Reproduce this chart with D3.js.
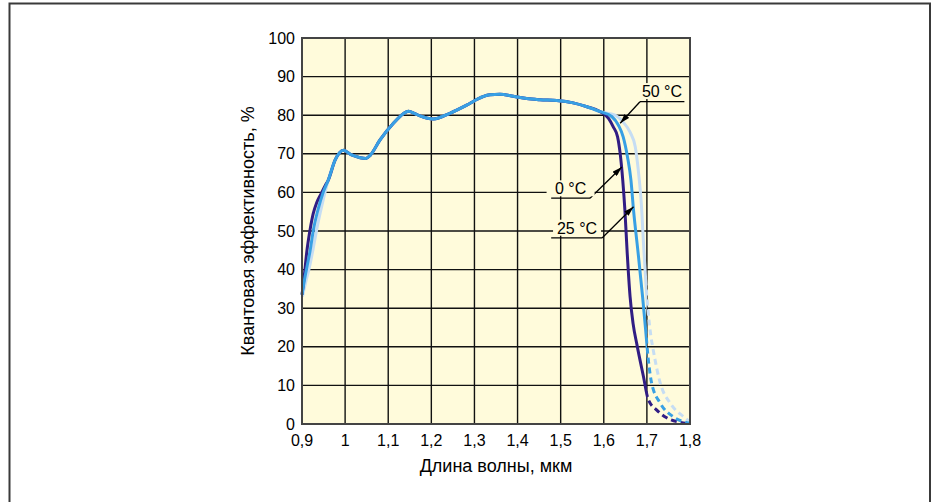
<!DOCTYPE html>
<html>
<head>
<meta charset="utf-8">
<script src="https://cdn.jsdelivr.net/npm/d3@7"></script>
<style>
    body { margin: 0; background: #fff; }
    svg { display: block; font-family: "Liberation Sans", Arial, sans-serif; }
</style>
</head>
<body>
<svg id="chart"></svg>
<script>
// wavelength (мкм) and quantum efficiency (%)
var sharedWave = [0.961, 0.977, 0.996, 1.015, 1.035, 1.048, 1.058, 1.081, 1.112, 1.135, 1.147, 1.162, 1.174, 1.205, 1.243, 1.282, 1.313, 1.336, 1.359, 1.39, 1.421, 1.452, 1.491, 1.529, 1.561, 1.592]
var sharedQE   = [63.2, 68.4, 70.9, 69.7, 69.0, 68.8, 69.6, 73.6, 77.9, 80.4, 81.0, 80.4, 79.8, 79.0, 80.5, 82.6, 84.5, 85.3, 85.4, 84.9, 84.3, 84.0, 83.8, 83.2, 82.2, 80.9]

var wave0Left  = [0.9, 0.905, 0.911, 0.919, 0.926, 0.934, 0.945, 0.954]
var qe0Left    = [33.5, 38, 44.5, 50.5, 54.5, 57.3, 59.8, 61.8]
var wave0Right = [1.611, 1.622, 1.632, 1.638, 1.644, 1.649, 1.654, 1.661, 1.668, 1.677, 1.692, 1.703, 1.723, 1.746, 1.777, 1.8]
var qe0Right   = [79.2, 77.0, 74.4, 70.1, 63.2, 55.4, 45.0, 33.0, 26.0, 20.5, 12.3, 6.4, 3.6, 1.6, 0.4, 0]

var wave25Left  = [0.9, 0.906, 0.912, 0.919, 0.926, 0.937, 0.949]
var qe25Left    = [33.5, 37.5, 41, 45, 50, 55.5, 60]
var wave25Right = [1.619, 1.634, 1.645, 1.655, 1.663, 1.669, 1.679, 1.69, 1.697, 1.703, 1.711, 1.731, 1.761, 1.8]
var qe25Right   = [79.6, 77.4, 74.4, 69.2, 63.2, 55.4, 45.0, 33.0, 24.5, 17.0, 10.6, 5.4, 1.9, 0.2]

var wave50Left  = [0.901, 0.908, 0.917, 0.926, 0.937, 0.949]
var qe50Left    = [33, 36.5, 40.5, 45.5, 52, 58]
var wave50Right = [1.626, 1.645, 1.661, 1.673, 1.68, 1.687, 1.693, 1.698, 1.703, 1.709, 1.715, 1.731, 1.754, 1.785, 1.8]
var qe50Right   = [80.0, 78.2, 75.6, 71.8, 65.8, 57.2, 45.0, 36.0, 29.0, 23.0, 19.0, 10.6, 5.4, 1.9, 0.6]

var xTicks = [0.9, 1.0, 1.1, 1.2, 1.3, 1.4, 1.5, 1.6, 1.7, 1.8]
var yTicks = [0, 10, 20, 30, 40, 50, 60, 70, 80, 90, 100]
var dashedFrom = 1.7

var series = [
    {name: "50 °C", color: "#c6ddf3", wave: wave50Left.concat(sharedWave, wave50Right), qe: qe50Left.concat(sharedQE, qe50Right)},
    {name: "0 °C", color: "#311d84", wave: wave0Left.concat(sharedWave, wave0Right), qe: qe0Left.concat(sharedQE, qe0Right)},
    {name: "25 °C", color: "#38a0e4", wave: wave25Left.concat(sharedWave, wave25Right), qe: qe25Left.concat(sharedQE, qe25Right)}
]

// labels: text position, underline start/end, arrow tip (data units)
var labels = [
    {text: "50 °C", tx: 1.735, ty: 84.7, u0: 1.684, u1: 1.787, uy: 83.5, ax: 1.638, ay: 77.9, from: "left"},
    {text: "0 °C", tx: 1.523, ty: 59.5, u0: 1.478, u1: 1.568, uy: 58.5, ax: 1.642, ay: 66.6, from: "right"},
    {text: "25 °C", tx: 1.538, ty: 49.3, u0: 1.478, u1: 1.596, uy: 48.2, ax: 1.669, ay: 56.3, from: "right"}
]

var dimensions = {
    width: 936,
    height: 502,
    margin: {top: 38, left: 302, right: 246, bottom: 78}
}

var svg = d3.select("#chart")
    .attr("width", dimensions.width)
    .attr("height", dimensions.height)

// outer frame (bottom runs off the picture)
svg.append("path")
    .attr("d", "M9.5,560 V3.5 H930 V560")
    .attr("fill", "none")
    .attr("stroke", "#3a3a3a")
    .attr("stroke-width", 2)

var xScale = d3.scaleLinear()
    .domain([0.9, 1.8])
    .range([dimensions.margin.left, dimensions.width - dimensions.margin.right])
var yScale = d3.scaleLinear()
    .domain([0, 100])
    .range([dimensions.height - dimensions.margin.bottom, dimensions.margin.top])

var plotW = xScale(1.8) - xScale(0.9)
var plotH = yScale(0) - yScale(100)

svg.append("rect")
    .attr("x", xScale(0.9))
    .attr("y", yScale(100))
    .attr("width", plotW)
    .attr("height", plotH)
    .attr("fill", "#fffbdb")

var grid = svg.append("g")
grid.selectAll(".vline")
    .data(xTicks.slice(1, -1))
    .enter()
    .append("line")
    .attr("x1", d => xScale(d)).attr("x2", d => xScale(d))
    .attr("y1", yScale(0)).attr("y2", yScale(100))
    .attr("stroke", "#111").attr("stroke-width", 1.4)
grid.selectAll(".hline")
    .data(yTicks.slice(1, -1))
    .enter()
    .append("line")
    .attr("y1", d => yScale(d)).attr("y2", d => yScale(d))
    .attr("x1", xScale(0.9)).attr("x2", xScale(1.8))
    .attr("stroke", "#111").attr("stroke-width", 1.4)

// curves: solid up to 1.7 мкм, dashed after
var defs = svg.append("defs")
defs.append("clipPath").attr("id", "clip-solid")
    .append("rect")
    .attr("x", xScale(0.9) - 5).attr("y", yScale(100))
    .attr("width", xScale(dashedFrom) - xScale(0.9) + 5).attr("height", plotH + 5)
defs.append("clipPath").attr("id", "clip-dash")
    .append("rect")
    .attr("x", xScale(dashedFrom)).attr("y", yScale(100))
    .attr("width", xScale(1.8) - xScale(dashedFrom)).attr("height", plotH)

var lineGen = d3.line()
    .x(d => xScale(d[0]))
    .y(d => yScale(d[1]))
    .curve(d3.curveMonotoneX)

var curves = svg.append("g")
series.forEach(s => {
    var pts = s.wave.map((w, i) => [w, s.qe[i]])
    curves.append("path")
        .attr("d", lineGen(pts))
        .attr("fill", "none")
        .attr("stroke", s.color)
        .attr("stroke-width", 3)
        .attr("clip-path", "url(#clip-solid)")
    curves.append("path")
        .attr("d", lineGen(pts))
        .attr("fill", "none")
        .attr("stroke", s.color)
        .attr("stroke-width", 3)
        .attr("stroke-dasharray", "6,4")
        .attr("clip-path", "url(#clip-dash)")
})

// plot border
svg.append("rect")
    .attr("x", xScale(0.9))
    .attr("y", yScale(100))
    .attr("width", plotW)
    .attr("height", plotH)
    .attr("fill", "none")
    .attr("stroke", "#444")
    .attr("stroke-width", 2)

// tick labels
svg.append("g")
    .selectAll("text")
    .data(xTicks)
    .enter()
    .append("text")
    .attr("x", d => xScale(d))
    .attr("y", yScale(0) + 22)
    .attr("text-anchor", "middle")
    .attr("font-size", 16)
    .text(d => d3.format(".1~f")(d).replace(".", ","))

svg.append("g")
    .selectAll("text")
    .data(yTicks)
    .enter()
    .append("text")
    .attr("x", xScale(0.9) - 7)
    .attr("y", d => yScale(d) + 5.5)
    .attr("text-anchor", "end")
    .attr("font-size", 16)
    .text(d => d)

svg.append("text")
    .attr("x", (xScale(0.9) + xScale(1.8)) / 2)
    .attr("y", yScale(0) + 48)
    .attr("text-anchor", "middle")
    .attr("font-size", 18)
    .text("Длина волны, мкм")

var midY = (yScale(0) + yScale(100)) / 2
svg.append("text")
    .attr("transform", `translate(254, ${midY}) rotate(-90)`)
    .attr("text-anchor", "middle")
    .attr("font-size", 18)
    .text("Квантовая эффективность, %")

// annotations
defs.append("marker")
    .attr("id", "arrow")
    .attr("viewBox", "0 0 10 6")
    .attr("refX", 10).attr("refY", 3)
    .attr("markerWidth", 10).attr("markerHeight", 6)
    .attr("markerUnits", "userSpaceOnUse")
    .attr("orient", "auto")
    .append("path")
    .attr("d", "M0,0 L10,3 L0,6 Z")
    .attr("fill", "#000")

var notes = svg.append("g")
labels.forEach(l => {
    notes.append("line")
        .attr("x1", xScale(l.u0)).attr("x2", xScale(l.u1))
        .attr("y1", yScale(l.uy)).attr("y2", yScale(l.uy))
        .attr("stroke", "#000").attr("stroke-width", 1.3)
    var startX = l.from === "left" ? l.u0 : l.u1
    notes.append("line")
        .attr("x1", xScale(startX)).attr("y1", yScale(l.uy))
        .attr("x2", xScale(l.ax)).attr("y2", yScale(l.ay))
        .attr("stroke", "#000").attr("stroke-width", 1.3)
        .attr("marker-end", "url(#arrow)")
    notes.append("rect")
        .attr("x", xScale(l.tx) - 24).attr("y", yScale(l.ty) - 14)
        .attr("width", 48).attr("height", 16)
        .attr("fill", "#fffbdb")
    notes.append("text")
        .attr("x", xScale(l.tx))
        .attr("y", yScale(l.ty))
        .attr("text-anchor", "middle")
        .attr("font-size", 16)
        .text(l.text)
})
</script>
</body>
</html>
